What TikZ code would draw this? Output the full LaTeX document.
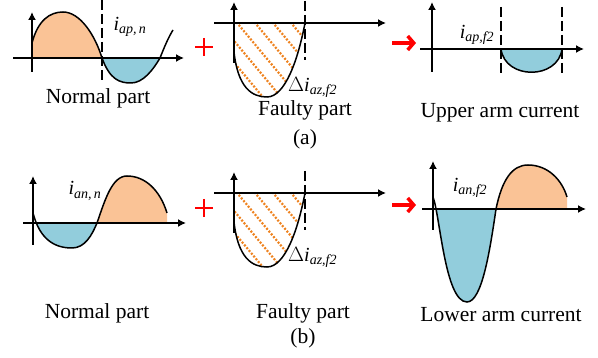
\documentclass[tikz,border=0pt]{standalone}
\usepackage{fontspec}
\setmainfont{Liberation Serif}
\usetikzlibrary{arrows.meta}
\definecolor{peach}{HTML}{FAC396}
\definecolor{aqua}{HTML}{92CDDC}
\definecolor{hatch}{HTML}{EE8320}
\definecolor{sumred}{HTML}{FF0000}
\tikzset{
  axis/.style     = {line width=1.5pt, -{Latex[length=8pt,width=8pt]}},
  wave/.style     = {line width=1.5pt},
  cutline/.style  = {line width=1.5pt, dash pattern=on 10pt off 4pt},
  hatchline/.style= {draw=hatch, line width=2.2pt, dash pattern=on 2pt off 1.6pt},
  capt/.style     = {font=\fontsize{21.5}{24}\selectfont, inner sep=0pt},
  lab/.style      = {font=\fontsize{20}{22}\selectfont, inner sep=0pt},
  sumarrow/.style = {draw=sumred, line width=3.5pt, -{Straight Barb[length=6pt,width=14pt]}},
  plussign/.style = {draw=sumred, line width=2.6pt},
}
\begin{document}
\begin{tikzpicture}[x=1pt,y=-1pt]
\useasboundingbox (0,0) rectangle (598,358);
% (a) normal part
\fill[peach] (32,58) -- (32,43) .. controls (38,20) and (50,12) .. (63,12)
  .. controls (80,12) and (95,35) .. (102,58) -- cycle;
\fill[aqua] (102,58) .. controls (110,80) and (120,83) .. (131,83)
  .. controls (143,83) and (153,70) .. (160,58) -- cycle;
\draw[wave] (32,43) .. controls (38,20) and (50,12) .. (63,12)
  .. controls (80,12) and (95,35) .. (102,58)
  .. controls (110,80) and (120,83) .. (131,83)
  .. controls (143,83) and (153,70) .. (160,58)
  .. controls (164,48) and (168,38) .. (173,30);
\draw[axis] (32,72) -- (32,12);
\draw[axis] (13,58) -- (184,58);
\draw[cutline] (102,0) -- (102,80);
\node[lab] (iapn) at (130,27) {\textit{i}\textsubscript{\textit{ap,\,n}}};
\node[capt] (norma) at (98,98) {Normal part};
% faulty parts, (a) and (b)
\foreach \dy/\nm in {0/a,170/b}{
  \begin{scope}[shift={(0,\dy)}]
    \begin{scope}
      \clip (234,23) -- (234,52) .. controls (238,88) and (252,97) .. (267,97)
        .. controls (285,97) and (298,60) .. (305,23) -- cycle;
      \foreach \k in {-5,...,7}
        \draw[hatchline] (200+18*\k,0) -- ++(100,120);
    \end{scope}
    \draw[wave] (234,52) .. controls (238,88) and (252,97) .. (267,97)
      .. controls (285,97) and (298,60) .. (305,23);
    \draw[axis] (234,63) -- (234,2);
    \draw[axis] (214,23) -- (386,23);
    \draw[cutline] (305,1) -- (305,60);
    \node[lab, anchor=west] (dI\nm) at (288,87) {$\Delta$\textit{i}\textsubscript{\textit{az,f2}}};
  \end{scope}
}
\node[capt] (faulta) at (305,110) {Faulty part};
\node[capt] (figa) at (305,139) {(a)};
% (a) upper arm current
\fill[aqua] (501,49) .. controls (505,80) and (558,80) .. (562,49) -- cycle;
\draw[wave] (501,49) .. controls (505,80) and (558,80) .. (562,49);
\draw[axis] (432,72) -- (432,2);
\draw[axis] (420,49) -- (584,49);
\draw[cutline] (501,7) -- (501,73);
\draw[cutline] (562,7) -- (562,73);
\node[lab] (iapf) at (477,35) {\textit{i}\textsubscript{\textit{ap,f2}}};
\node[capt] (upper) at (500,113) {Upper arm current};
% (b) normal part
\begin{scope}
  \clip (0,223) rectangle (200,300);
  \fill[aqua] (33,223) -- (33,213) .. controls (40,240) and (55,248) .. (72,248)
    .. controls (85,248) and (92,235) .. (97,223) -- cycle;
\end{scope}
\fill[peach] (97,223) .. controls (105,200) and (112,176) .. (127,176)
  .. controls (145,176) and (160,190) .. (167,213) -- (167,223) -- cycle;
\draw[wave] (33,213) .. controls (40,240) and (55,248) .. (72,248)
  .. controls (85,248) and (92,235) .. (97,223)
  .. controls (105,200) and (112,176) .. (127,176)
  .. controls (145,176) and (160,190) .. (167,213);
\draw[axis] (33,245) -- (33,176);
\draw[axis] (23,223) -- (186,223);
\node[lab] (iann) at (85,191) {\textit{i}\textsubscript{\textit{an,\,n}}};
\node[capt] (normb) at (97,313) {Normal part};
\node[capt] (faultb) at (303,313) {Faulty part};
\node[capt] (figb) at (303,338) {(b)};
% (b) lower arm current
\begin{scope}
  \clip (400,209) rectangle (598,320);
  \fill[aqua] (433,209) -- (433,197) .. controls (440,215) and (445,302) .. (467,302)
    .. controls (482,302) and (490,250) .. (496,209) -- cycle;
\end{scope}
\fill[peach] (496,209) .. controls (502,180) and (512,165) .. (528,165)
  .. controls (548,165) and (562,180) .. (567,197) -- (567,209) -- cycle;
\draw[wave] (433,197) .. controls (440,215) and (445,302) .. (467,302)
  .. controls (482,302) and (490,250) .. (496,209)
  .. controls (502,180) and (512,165) .. (528,165)
  .. controls (548,165) and (562,180) .. (567,197);
\draw[axis] (433,230) -- (433,161);
\draw[axis] (422,209) -- (586,209);
\node[lab] (ianf) at (470,188) {\textit{i}\textsubscript{\textit{an,f2}}};
\node[capt] (lower) at (501,315) {Lower arm current};
% plus signs and sum arrows
\draw[plussign] (195,47) -- (213,47) (204,38) -- (204,56);
\draw[plussign] (195,208) -- (213,208) (204,199) -- (204,217);
\coordinate (sumAa) at (392,43);
\coordinate (sumBa) at (416,43);
\coordinate (sumAb) at (392,205);
\coordinate (sumBb) at (416,205);
\draw[sumarrow] (sumAa) -- (sumBa);
\draw[sumarrow] (sumAb) -- (sumBb);
\end{tikzpicture}
\end{document}
